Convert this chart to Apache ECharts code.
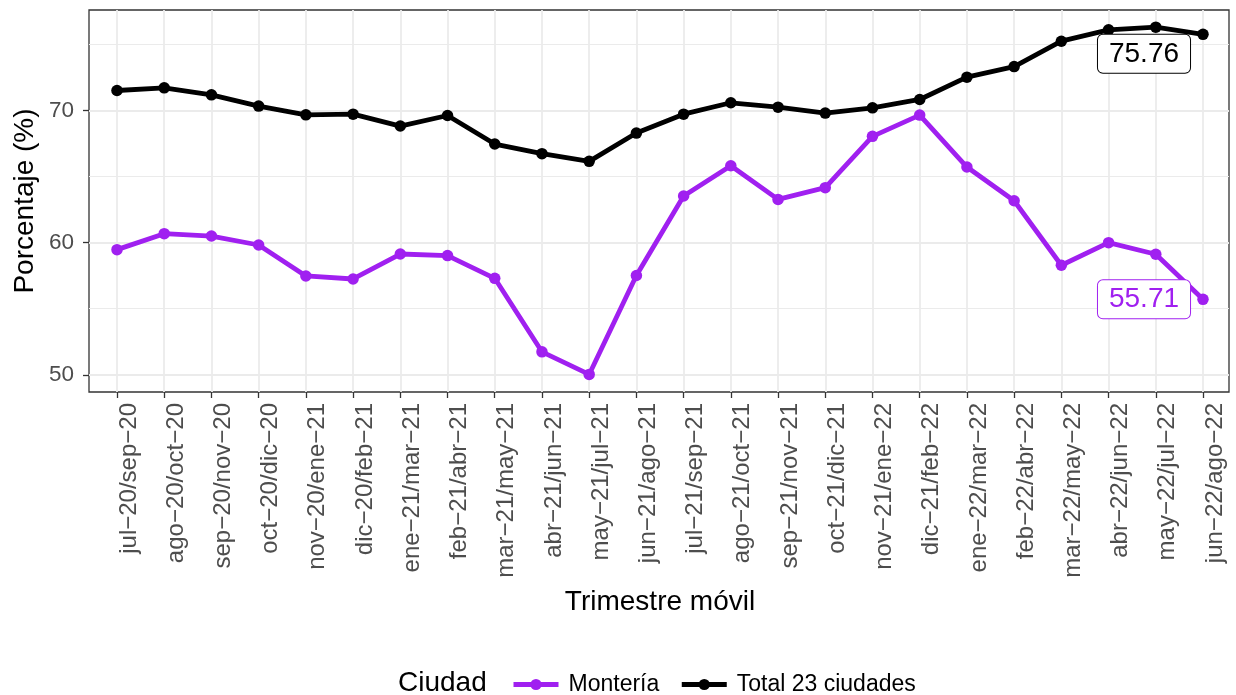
<!DOCTYPE html>
<html>
<head>
<meta charset="utf-8">
<script src="https://cdn.jsdelivr.net/npm/echarts@6/dist/echarts.min.js"></script>
<style>
html,body{margin:0;padding:0;background:#fff;}
#chart{width:1236px;height:695px;}
</style>
</head>
<body>
<div id="chart"></div>
<script>
const categories = ['jul−20/sep−20','ago−20/oct−20','sep−20/nov−20','oct−20/dic−20','nov−20/ene−21','dic−20/feb−21','ene−21/mar−21','feb−21/abr−21','mar−21/may−21','abr−21/jun−21','may−21/jul−21','jun−21/ago−21','jul−21/sep−21','ago−21/oct−21','sep−21/nov−21','oct−21/dic−21','nov−21/ene−22','dic−21/feb−22','ene−22/mar−22','feb−22/abr−22','mar−22/may−22','abr−22/jun−22','may−22/jul−22','jun−22/ago−22'];
const monteria = [59.47,60.68,60.50,59.82,57.48,57.25,59.14,59.02,57.30,51.74,50.03,57.51,63.53,65.82,63.27,64.16,68.04,69.65,65.72,63.17,58.29,60.00,59.12,55.71];
const total23 = [71.51,71.71,71.18,70.33,69.67,69.72,68.82,69.62,67.46,66.73,66.15,68.29,69.72,70.58,70.25,69.80,70.20,70.83,72.52,73.32,75.24,76.10,76.30,75.76];
const seriesNames = ['Montería','Total 23 ciudades'];
const legendTitle = 'Ciudad';
const xTitle = 'Trimestre móvil';
const yTitle = 'Porcentaje (%)';

const FONT = 'Liberation Sans, Arial, Helvetica, sans-serif';
const PURPLE = '#A020F0';

// panel geometry
const panelTop = 10, panelBottomPx = 392;
const yMin = 48.7, yMax = 77.6;
const H = 695;
const pxPerUnit = (panelBottomPx - panelTop) / (yMax - yMin);
function yPix(v){ return panelTop + (yMax - v) * pxPerUnit; }

function lastLabel(arr, color, offset){
  return arr.map((v, i) => {
    if (i !== arr.length - 1) return v;
    return {
      value: v,
      label: {
        show: true, position: 'inside', offset: offset,
        formatter: (p) => Number(p.value).toFixed(2),
        fontSize: 28, fontFamily: FONT, color: color,
        backgroundColor: '#fff', borderColor: color, borderWidth: 1,
        borderRadius: 5, padding: [5, 11, 5, 11], lineHeight: 28
      }
    };
  });
}

const chart = echarts.init(document.getElementById('chart'), null, {renderer: 'canvas'});
chart.setOption({
  animation: false,
  backgroundColor: '#fff',
  textStyle: {fontFamily: FONT},
  title: {
    text: legendTitle, left: 398, top: 669,
    padding: 0,
    textStyle: {fontSize: 28, fontWeight: 'normal', color: '#000', fontFamily: FONT}
  },
  legend: {
    data: seriesNames, left: 506, top: 668, itemWidth: 45, itemHeight: 14, itemGap: 20,
    lineStyle: {width: 5},
    textStyle: {fontSize: 23, color: '#000', fontFamily: FONT, padding: [0,0,0,5]}
  },
  grid: [
    // 0: major gridlines (50..70)
    {left: 89, right: 7, top: yPix(70), bottom: H - yPix(50), outerBoundsMode: 'none'},
    // 1: minor gridlines (55..75)
    {left: 89, right: 7, top: yPix(75), bottom: H - yPix(55), outerBoundsMode: 'none'},
    // 2: panel with border
    {left: 89, right: 7, top: panelTop, bottom: H - panelBottomPx, show: true, borderColor: '#333', borderWidth: 1.3, backgroundColor: 'transparent', outerBoundsMode: 'none'},
    // 3: data grid
    {left: 117, right: 33, top: panelTop, bottom: H - panelBottomPx, outerBoundsMode: 'none'}
  ],
  xAxis: [
    {gridIndex: 0, type: 'value', show: false, min: 0, max: 1},
    {gridIndex: 1, type: 'value', show: false, min: 0, max: 1},
    {gridIndex: 2, type: 'value', show: false, min: 0, max: 1},
    {gridIndex: 3, type: 'category', data: categories, boundaryGap: false,
     axisLine: {show: false},
     axisTick: {show: true, length: 6, lineStyle: {color: '#333', width: 1.3}},
     splitLine: {show: true, lineStyle: {color: '#EBEBEB', width: 1.8}},
     axisLabel: {rotate: 90, interval: 0, fontSize: 24, color: '#4D4D4D', margin: 11, verticalAlign: 'top', fontFamily: FONT},
     name: xTitle, nameLocation: 'middle', nameGap: 196,
     nameTextStyle: {fontSize: 28, color: '#000', fontFamily: FONT}
    }
  ],
  yAxis: [
    {gridIndex: 0, type: 'value', min: 50, max: 70, interval: 10,
     axisLine: {show: false},
     axisTick: {show: true, length: 6, lineStyle: {color: '#333', width: 1.3}},
     axisLabel: {fontSize: 22.5, color: '#4D4D4D', margin: 15, fontFamily: FONT},
     splitLine: {show: true, lineStyle: {color: '#EBEBEB', width: 1.8}}
    },
    {gridIndex: 1, type: 'value', min: 55, max: 75, interval: 10,
     axisLine: {show: false}, axisTick: {show: false}, axisLabel: {show: false},
     splitLine: {show: true, lineStyle: {color: '#EBEBEB', width: 1.1}}
    },
    {gridIndex: 2, type: 'value', min: yMin, max: yMax,
     axisLine: {show: false}, axisTick: {show: false}, axisLabel: {show: false}, splitLine: {show: false},
     name: yTitle, nameLocation: 'middle', nameGap: 50,
     nameTextStyle: {fontSize: 28, color: '#000', fontFamily: FONT}
    },
    {gridIndex: 3, type: 'value', min: yMin, max: yMax, show: false, splitLine: {show: false}}
  ],
  series: [
    {name: seriesNames[0], type: 'line', xAxisIndex: 3, yAxisIndex: 3,
     data: lastLabel(monteria, PURPLE, [-59, 0]),
     symbol: 'circle', symbolSize: 11.5,
     lineStyle: {color: PURPLE, width: 4.8}, itemStyle: {color: PURPLE}, z: 3},
    {name: seriesNames[1], type: 'line', xAxisIndex: 3, yAxisIndex: 3,
     data: lastLabel(total23, '#000', [-59, 19.5]),
     symbol: 'circle', symbolSize: 11.5,
     lineStyle: {color: '#000', width: 4.8}, itemStyle: {color: '#000'}, z: 3}
  ]
});
</script>
</body>
</html>
